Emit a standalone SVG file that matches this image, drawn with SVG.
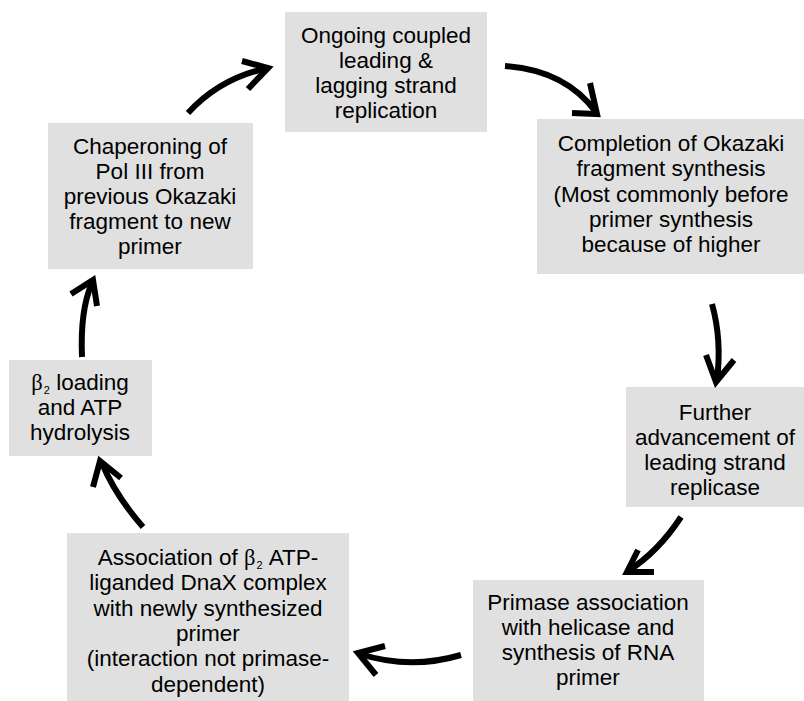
<svg xmlns="http://www.w3.org/2000/svg" width="804" height="701" viewBox="0 0 804 701">
<style>
.box{fill:#e0e0e0}
.t{font-family:"Liberation Sans",Arial,sans-serif;font-size:22.5px;fill:#000;text-anchor:middle}
.g{font-family:"Liberation Serif","Times New Roman",serif}
.s{font-size:11px}
.c{fill:none;stroke:#000;stroke-width:6}
.h{fill:none;stroke:#000;stroke-width:6;stroke-linejoin:miter}
</style>
<rect width="804" height="701" fill="#fff"/>
<g id="n1"><rect class="box" x="285" y="12" width="202" height="120"/>
<text class="t" x="386" y="43">Ongoing coupled<tspan x="386" dy="25">leading &amp;</tspan><tspan x="386" dy="25">lagging strand</tspan><tspan x="386" dy="25">replication</tspan></text></g>
<g id="n2"><rect class="box" x="537" y="119" width="267" height="155"/>
<text class="t" x="671" y="151">Completion of Okazaki<tspan x="671" dy="25.3">fragment synthesis</tspan><tspan x="671" dy="25.3">(Most commonly before</tspan><tspan x="671" dy="25.3">primer synthesis</tspan><tspan x="671" dy="25.3">because of higher</tspan></text></g>
<g id="n3"><rect class="box" x="626" y="387" width="178" height="120"/>
<text class="t" x="715" y="420">Further<tspan x="715" dy="25">advancement of</tspan><tspan x="715" dy="25">leading strand</tspan><tspan x="715" dy="25">replicase</tspan></text></g>
<g id="n4"><rect class="box" x="473" y="580" width="231" height="121"/>
<text class="t" x="588" y="610">Primase association<tspan x="588" dy="25">with helicase and</tspan><tspan x="588" dy="25">synthesis of RNA</tspan><tspan x="588" dy="25">primer</tspan></text></g>
<g id="n5"><rect class="box" x="67" y="533" width="282" height="168"/>
<text class="t" x="208" y="565">Association of <tspan class="g">β</tspan><tspan class="s" dx="1" dy="4">2</tspan><tspan dy="-4"> ATP-</tspan><tspan x="208" dy="25.3">liganded DnaX complex</tspan><tspan x="208" dy="25.3">with newly synthesized</tspan><tspan x="208" dy="25.3">primer</tspan><tspan x="208" dy="25.3">(interaction not primase-</tspan><tspan x="208" dy="25.3">dependent)</tspan></text></g>
<g id="n6"><rect class="box" x="9" y="360" width="143" height="96"/>
<text class="t" x="80" y="390"><tspan class="g">β</tspan><tspan class="s" dx="1" dy="4">2</tspan><tspan dy="-4"> loading</tspan><tspan x="80" dy="25">and ATP</tspan><tspan x="80" dy="25">hydrolysis</tspan></text></g>
<g id="n7"><rect class="box" x="48" y="123" width="205" height="146"/>
<text class="t" x="150" y="154">Chaperoning of<tspan x="150" dy="25">Pol III from</tspan><tspan x="150" dy="25">previous Okazaki</tspan><tspan x="150" dy="25">fragment to new</tspan><tspan x="150" dy="25">primer</tspan></text></g>
<g id="connectors">
<path class="c" d="M188,113 Q220,78 268,68"/>
<polyline class="h" points="242,61 268,68 248,89"/>
<path class="c" d="M505,66 Q565,70 596,112"/>
<polyline class="h" points="590,83 597,114 572,113"/>
<path class="c" d="M712,304 Q722,340 717,380"/>
<polyline class="h" points="706,355 716,382 734,360"/>
<path class="c" d="M681,517 Q658,552 628,571"/>
<polyline class="h" points="638,550 627,572 654,572"/>
<path class="c" d="M461,655 Q410,670 360,654"/>
<polyline class="h" points="385,646 358,653 376,675"/>
<path class="c" d="M143,527 Q115,495 102,463"/>
<polyline class="h" points="93,487 100,461 121,478"/>
<path class="c" d="M82,357 Q80,310 92,283"/>
<polyline class="h" points="71,294 93,280 97,306"/>
</g>
</svg>
